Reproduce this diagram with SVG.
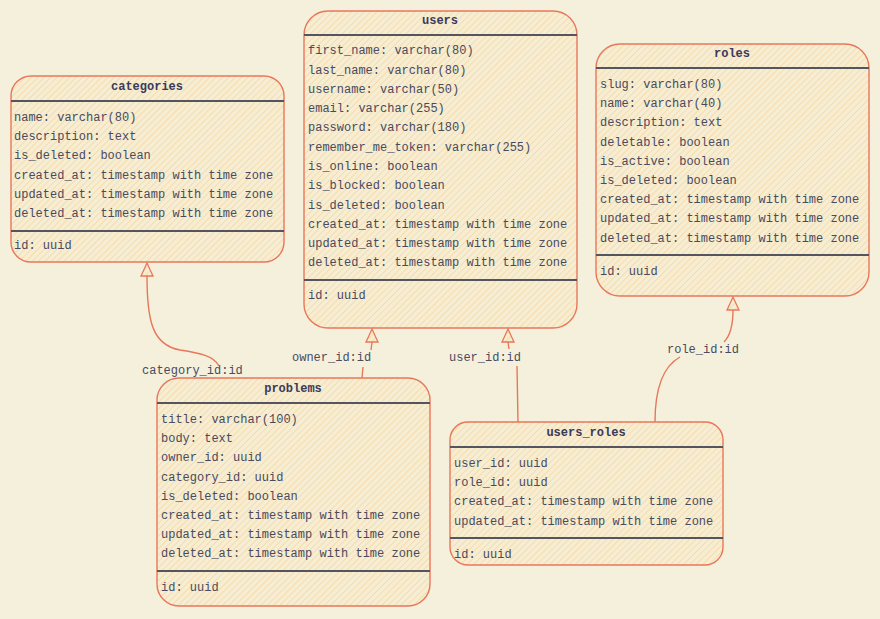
<svg xmlns="http://www.w3.org/2000/svg" width="880" height="619" viewBox="0 0 880 619">
<defs>
<pattern id="hatch" patternUnits="userSpaceOnUse" width="4.5" height="4.5" patternTransform="rotate(45)">
<rect width="4.5" height="4.5" fill="#f6edd3"/>
<line x1="0" y1="0" x2="0" y2="4.5" stroke="#f3d8a4" stroke-width="1.4"/>
</pattern>
<style>
.box{fill:url(#hatch);stroke:#e8775a;stroke-width:1.4}
.div{stroke:#555560;stroke-width:2}
.t{font-family:"Liberation Mono","Courier New",monospace;font-size:12px;fill:#4a4a5c}
.h{font-family:"Liberation Mono","Courier New",monospace;font-size:12px;font-weight:bold;fill:#3a3a5a;text-anchor:middle}
.e{fill:none;stroke:#e8775a;stroke-width:1.4}
.tri{fill:url(#hatch);stroke:#e8775a;stroke-width:1.3}
</style>
</defs>
<rect width="880" height="619" fill="#f4f0dc"/>

<g id="connectors">
<path class="e" d="M219,366 C214,356 200,353 180,350 C152,345 147,320 147,276"/>
<path class="tri" d="M147,263 L153,276 L141,276 Z"/>
<text class="t" x="142" y="374">category_id:id</text>

<path class="e" d="M362,378 L363,367"/>
<path class="e" d="M371,350 L372,342"/>
<path class="tri" d="M372,329 L378,342 L366,342 Z"/>
<text class="t" x="292" y="361">owner_id:id</text>

<path class="e" d="M518,422 L517,366"/>
<path class="e" d="M509,349 L508,342"/>
<path class="tri" d="M508,329 L514,342 L502,342 Z"/>
<text class="t" x="449" y="361">user_id:id</text>

<path class="e" d="M655,422 C655,395 660,368 680,357"/>
<path class="e" d="M724,342 C731,335 733,325 733,310"/>
<path class="tri" d="M733,297 L739,310 L727,310 Z"/>
<text class="t" x="667" y="353">role_id:id</text>
</g>

<g id="categories">
<rect class="box" x="11" y="76" width="273" height="186" rx="20"/>
<text class="h" x="147" y="90">categories</text>
<line class="div" x1="11" y1="101" x2="284" y2="101"/>
<text class="t" x="14" y="121">name: varchar(80)</text>
<text class="t" x="14" y="140">description: text</text>
<text class="t" x="14" y="159">is_deleted: boolean</text>
<text class="t" x="14" y="179">created_at: timestamp with time zone</text>
<text class="t" x="14" y="198">updated_at: timestamp with time zone</text>
<text class="t" x="14" y="217">deleted_at: timestamp with time zone</text>
<line class="div" x1="11" y1="231" x2="284" y2="231"/>
<text class="t" x="14" y="249">id: uuid</text>
</g>

<g id="users">
<rect class="box" x="304" y="11" width="273" height="317" rx="24"/>
<text class="h" x="440" y="24">users</text>
<line class="div" x1="304" y1="35" x2="577" y2="35"/>
<text class="t" x="308" y="54">first_name: varchar(80)</text>
<text class="t" x="308" y="74">last_name: varchar(80)</text>
<text class="t" x="308" y="93">username: varchar(50)</text>
<text class="t" x="308" y="112">email: varchar(255)</text>
<text class="t" x="308" y="131">password: varchar(180)</text>
<text class="t" x="308" y="151">remember_me_token: varchar(255)</text>
<text class="t" x="308" y="170">is_online: boolean</text>
<text class="t" x="308" y="189">is_blocked: boolean</text>
<text class="t" x="308" y="209">is_deleted: boolean</text>
<text class="t" x="308" y="228">created_at: timestamp with time zone</text>
<text class="t" x="308" y="247">updated_at: timestamp with time zone</text>
<text class="t" x="308" y="266">deleted_at: timestamp with time zone</text>
<line class="div" x1="304" y1="280" x2="577" y2="280"/>
<text class="t" x="308" y="299">id: uuid</text>
</g>

<g id="roles">
<rect class="box" x="596" y="44" width="273" height="252" rx="24"/>
<text class="h" x="732" y="57">roles</text>
<line class="div" x1="596" y1="68" x2="869" y2="68"/>
<text class="t" x="600" y="88">slug: varchar(80)</text>
<text class="t" x="600" y="107">name: varchar(40)</text>
<text class="t" x="600" y="126">description: text</text>
<text class="t" x="600" y="146">deletable: boolean</text>
<text class="t" x="600" y="165">is_active: boolean</text>
<text class="t" x="600" y="184">is_deleted: boolean</text>
<text class="t" x="600" y="203">created_at: timestamp with time zone</text>
<text class="t" x="600" y="222">updated_at: timestamp with time zone</text>
<text class="t" x="600" y="242">deleted_at: timestamp with time zone</text>
<line class="div" x1="596" y1="255" x2="869" y2="255"/>
<text class="t" x="600" y="275">id: uuid</text>
</g>

<g id="problems">
<rect class="box" x="157" y="378" width="273" height="228" rx="22"/>
<text class="h" x="293" y="392">problems</text>
<line class="div" x1="157" y1="403" x2="430" y2="403"/>
<text class="t" x="161" y="423">title: varchar(100)</text>
<text class="t" x="161" y="442">body: text</text>
<text class="t" x="161" y="461">owner_id: uuid</text>
<text class="t" x="161" y="481">category_id: uuid</text>
<text class="t" x="161" y="500">is_deleted: boolean</text>
<text class="t" x="161" y="519">created_at: timestamp with time zone</text>
<text class="t" x="161" y="538">updated_at: timestamp with time zone</text>
<text class="t" x="161" y="557">deleted_at: timestamp with time zone</text>
<line class="div" x1="157" y1="571" x2="430" y2="571"/>
<text class="t" x="161" y="591">id: uuid</text>
</g>

<g id="users_roles">
<rect class="box" x="450" y="422" width="273" height="143" rx="18"/>
<text class="h" x="586" y="436">users_roles</text>
<line class="div" x1="450" y1="447" x2="723" y2="447"/>
<text class="t" x="454" y="467">user_id: uuid</text>
<text class="t" x="454" y="486">role_id: uuid</text>
<text class="t" x="454" y="505">created_at: timestamp with time zone</text>
<text class="t" x="454" y="525">updated_at: timestamp with time zone</text>
<line class="div" x1="450" y1="538" x2="723" y2="538"/>
<text class="t" x="454" y="558">id: uuid</text>
</g>
</svg>
